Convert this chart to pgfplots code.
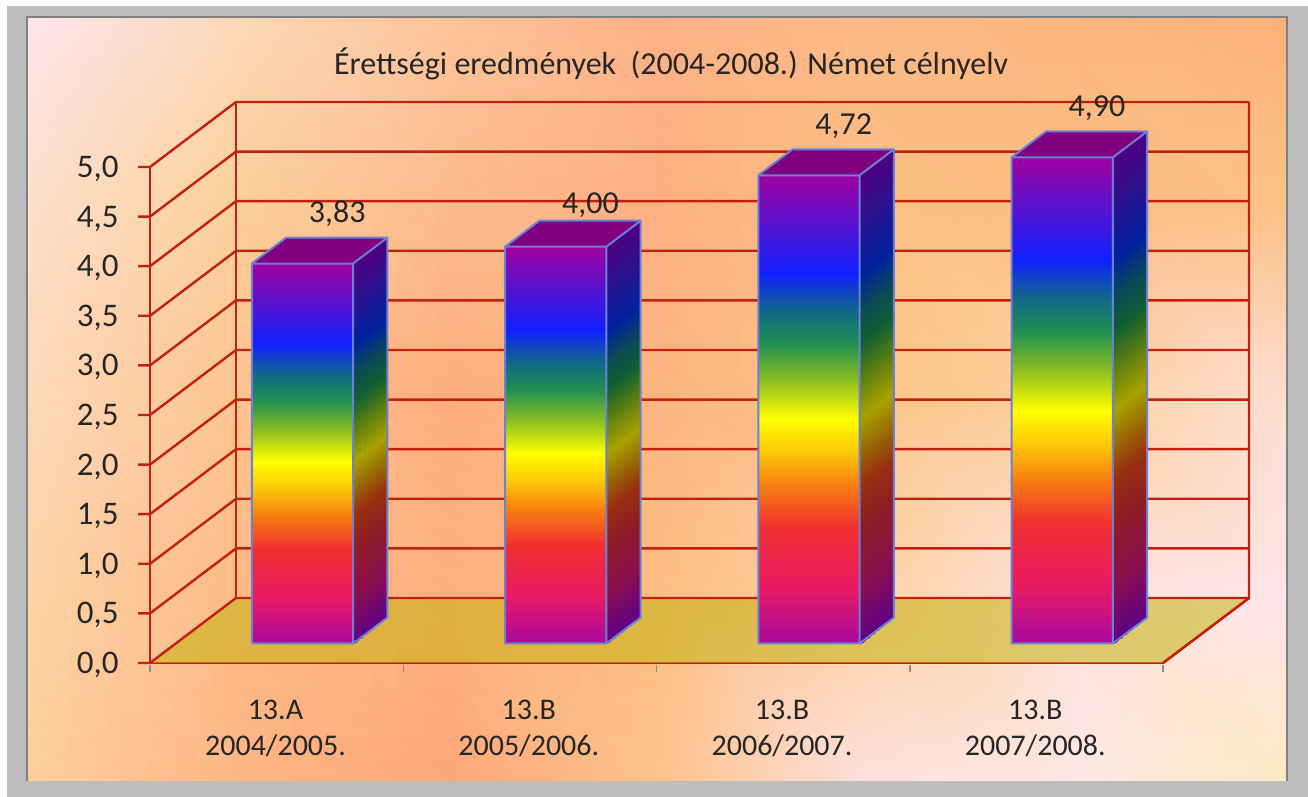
\documentclass[border=0pt]{standalone}
\usepackage{fontspec}
\setmainfont{Carlito}
\usepackage{pgfplots}
\pgfplotsset{compat=1.18}

\definecolor{gridred}{HTML}{C2200F}
\definecolor{edgeblue}{HTML}{6C80D6}
\definecolor{txt}{HTML}{262626}

% rainbow of the front faces, bottom to top
\pgfplotsset{colormap={frontface}{
  rgb255(0pt)=(168,8,160) rgb255(12pt)=(232,26,100) rgb255(25pt)=(240,48,48)
  rgb255(34pt)=(248,128,16) rgb255(41pt)=(252,200,8) rgb255(48pt)=(255,255,0)
  rgb255(56pt)=(144,192,32) rgb255(64pt)=(32,144,80) rgb255(71pt)=(16,104,136)
  rgb255(79pt)=(16,32,255) rgb255(91pt)=(96,16,200) rgb255(100pt)=(160,0,160)}}
\pgfplotsset{colormap={sideface}{
  rgb255(0pt)=(94,0,136) rgb255(12pt)=(138,15,80) rgb255(25pt)=(142,28,36)
  rgb255(34pt)=(152,48,15) rgb255(41pt)=(152,106,5) rgb255(48pt)=(168,162,0)
  rgb255(56pt)=(96,128,15) rgb255(64pt)=(16,96,48) rgb255(71pt)=(10,74,85)
  rgb255(79pt)=(0,32,160) rgb255(91pt)=(48,16,140) rgb255(100pt)=(78,0,128)}}

% #1 left x, #2 right x, #3 value, #4 label, #5 label yshift
\newcommand{\threedbar}[5]{
  \addplot3[surf,shader=interp,colormap name=sideface,point meta=explicit,mesh/rows=2]
    coordinates {(#2,0.3,0) [0] (#2,0.7,0) [0] (#2,0.3,#3) [1] (#2,0.7,#3) [1]};
  \addplot3[fill={rgb,255:red,128;green,0;blue,128},draw=none]
    coordinates {(#1,0.3,#3) (#2,0.3,#3) (#2,0.7,#3) (#1,0.7,#3) (#1,0.3,#3)};
  \addplot3[surf,shader=interp,colormap name=frontface,point meta=explicit,mesh/rows=2]
    coordinates {(#1,0.3,0) [0] (#2,0.3,0) [0] (#1,0.3,#3) [1] (#2,0.3,#3) [1]};
  \addplot3[edgeblue,line width=2pt,line join=round]
    coordinates {(#2,0.3,0) (#1,0.3,0) (#1,0.3,#3) (#2,0.3,#3) (#2,0.3,0) (#2,0.7,0) (#2,0.7,#3) (#1,0.7,#3) (#1,0.3,#3)};
  \addplot3[edgeblue,line width=2pt] coordinates {(#2,0.3,#3) (#2,0.7,#3)};
  \node[txt,font=\fontsize{32}{32}\selectfont] at (axis cs:{#1+0.2},0.5,#3) [xshift=17.5pt,yshift=#5] {#4};
}

\begin{document}
\begin{tikzpicture}
\useasboundingbox (0,0) rectangle (1308pt,797pt);

% frame and gradient backdrop
\begin{axis}[
    at={(0pt,0pt)},anchor=origin,disabledatascaling,
    x=1pt,y=1pt,xmin=0,xmax=1308,ymin=0,ymax=797,
    hide axis,clip=false,
]
\fill[white] (axis cs:0,0) rectangle (axis cs:1308,797);
\fill[black!26] (axis cs:7,0) rectangle (axis cs:1308,791);
\addplot[surf,shader=interp,mesh/color input=explicit,mesh/rows=5] coordinates {
 (27,16)   [rgb255=253,208,154] (240,16)   [rgb255=254,181,133] (450,16)   [rgb255=253,168,122] (660,16)   [rgb255=253,194,138] (870,16)   [rgb255=254,224,220] (1080,16)   [rgb255=253,232,228] (1287,16)   [rgb255=251,235,197]
 (27,197)  [rgb255=253,212,166] (240,197)  [rgb255=253,186,134] (450,197)  [rgb255=253,176,127] (660,197)  [rgb255=252,190,132] (870,197)  [rgb255=253,210,165] (1080,197)  [rgb255=253,226,224] (1287,197)  [rgb255=254,230,234]
 (27,397)  [rgb255=253,217,186] (240,397)  [rgb255=252,196,143] (450,397)  [rgb255=253,173,127] (660,397)  [rgb255=252,180,127] (870,397)  [rgb255=251,198,135] (1080,397)  [rgb255=252,208,160] (1287,397)  [rgb255=253,222,210]
 (27,597)  [rgb255=253,224,204] (240,597)  [rgb255=251,208,154] (450,597)  [rgb255=252,187,142] (660,597)  [rgb255=253,175,130] (870,597)  [rgb255=251,191,130] (1080,597)  [rgb255=251,188,128] (1287,597)  [rgb255=252,192,133]
 (27,780)  [rgb255=253,230,236] (240,780)  [rgb255=252,216,184] (450,780)  [rgb255=253,196,154] (660,780)  [rgb255=254,176,134] (870,780)  [rgb255=253,184,136] (1080,780)  [rgb255=252,180,126] (1287,780)  [rgb255=253,175,120]
};
\draw[black!50,line width=1.5pt] (axis cs:27,16) -- (axis cs:27,780) -- (axis cs:1287,780) -- (axis cs:1287,16);
\node[txt,font=\fontsize{32}{32}\selectfont] at (axis cs:671,733) {Érettségi eredmények\ \ (2004-2008.) Német célnyelv};
\end{axis}

% the 3D chart: one x unit per class, y is the depth, z the result
\begin{axis}[
    at={(150pt,134pt)},anchor=origin,disabledatascaling,
    x={(253.25pt,0pt)},y={(86pt,65pt)},z={(0pt,99.2pt)},
    xmin=0,xmax=4,ymin=0,ymax=1,zmin=0,zmax=5,
    axis lines=left,clip=false,
    axis line style={-,gridred,line width=2.4pt},
    major tick length=0pt,
    xtick={0.5,1.5,2.5,3.5},
    xticklabels={{13.A\\2004/2005.},{13.B\\2005/2006.},{13.B\\2006/2007.},{13.B\\2007/2008.}},
    ytick=\empty,
    ztick={0,0.5,...,5},
    x tick label style={align=center,text=txt,font=\fontsize{30}{36.6}\selectfont,xshift=15pt,yshift=-33pt},
    z tick label style={text=txt,font=\fontsize{33}{33}\selectfont,anchor=east,xshift=-28pt,yshift=-2pt},
    /pgf/number format/assume math mode=true,
    zticklabel style={/pgf/number format/.cd,fixed,fixed zerofill,precision=1,use comma},
    point meta min=0,point meta max=1,
]
\addplot3[fill={rgb,255:red,192;green,176;blue,0},fill opacity=0.5,draw=none]
  coordinates {(0,0,0) (4,0,0) (4,1,0) (0,1,0) (0,0,0)};
% walls
\pgfplotsinvokeforeach{0,0.5,...,5}{
  \addplot3[gridred,line width=2.4pt] coordinates {(-0.047,0,#1) (0,0,#1) (0,1,#1) (4,1,#1)};
}
\addplot3[gridred,line width=2.4pt] coordinates {(0,1,0) (0,1,5)};
\addplot3[gridred,line width=2.4pt] coordinates {(4,1,5) (4,1,0) (4,0,0)};
% x ticks
\pgfplotsinvokeforeach{0,1,2,3,4}{
  \addplot3[black!45,line width=1.5pt] coordinates {(#1,0,-0.02) (#1,0,-0.09)};
}
\threedbar{0.3}{0.7}{3.83}{3,83}{37pt}
\threedbar{1.3}{1.7}{4.00}{4,00}{29pt}
\threedbar{2.3}{2.7}{4.72}{4,72}{36pt}
\threedbar{3.3}{3.7}{4.90}{4,90}{36pt}
\end{axis}
\end{tikzpicture}
\end{document}
